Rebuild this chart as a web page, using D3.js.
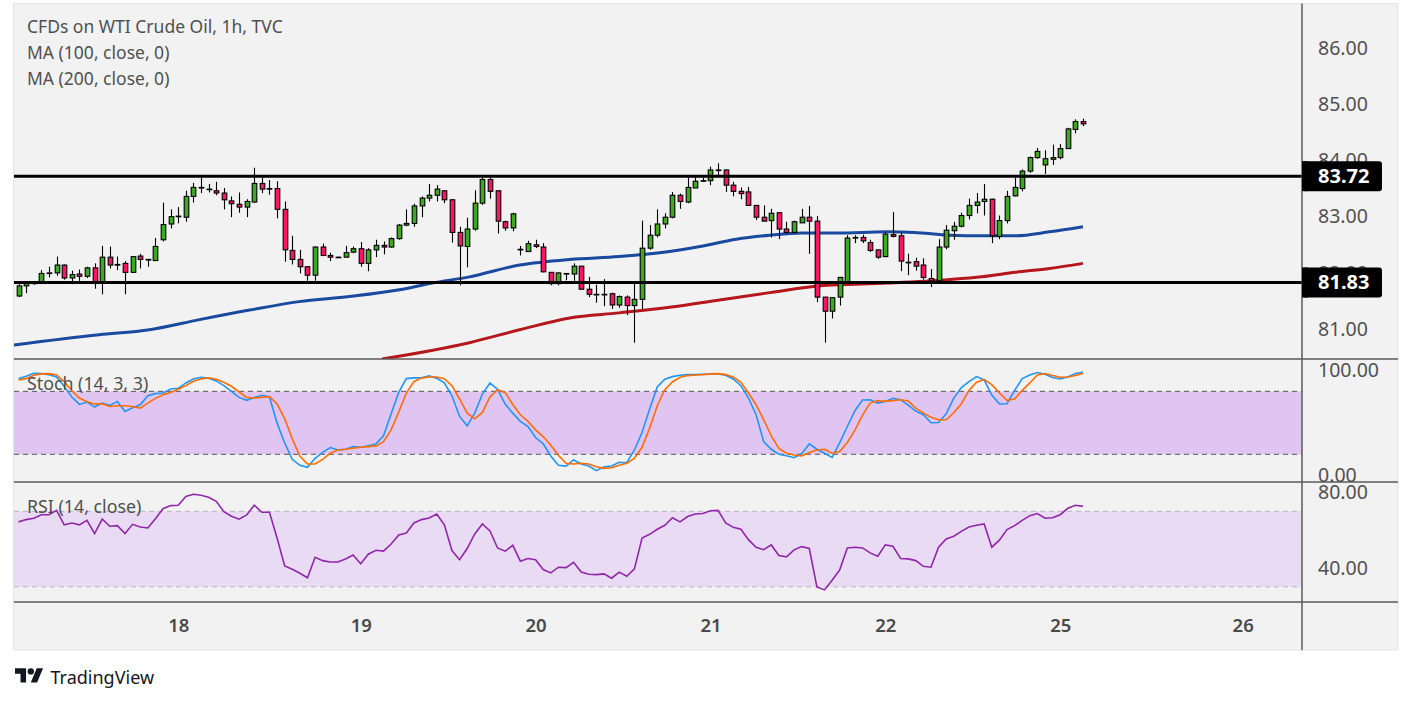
<!DOCTYPE html>
<html><head><meta charset="utf-8">
<script src="https://cdnjs.cloudflare.com/ajax/libs/d3/7.8.5/d3.min.js"></script>
<style>
body{margin:0;background:#fff;}
svg{display:block;font-family:"Noto Sans",sans-serif;}
</style>
</head><body>
<svg id="c" width="1413" height="703"></svg>
<script>
// ---------- DATA ----------
const dayLabels = ["18","19","20","21","22","25","26"];
const dayIndex  = [21, 45, 68, 91, 114, 137, 161];

const open = [81.59,81.77,81.81,81.82,81.99,82.00,82.14,81.91,81.98,81.94,
82.09,81.84,82.28,82.15,82.17,82.01,82.30,82.24,82.22,82.59,
82.87,83.00,82.99,83.36,83.52,83.49,83.46,83.42,83.28,83.22,
83.17,83.26,83.59,83.50,83.50,83.13,82.40,82.24,82.11,81.96,
82.46,82.31,82.28,82.28,82.37,82.43,82.17,82.41,82.49,82.46,
82.61,82.85,82.88,83.19,83.33,83.38,83.46,83.30,82.72,82.47,
82.78,83.24,83.66,83.46,82.91,82.80,82.42,82.38,82.50,82.46,
82.01,81.81,81.99,81.98,82.12,81.71,81.62,81.62,81.63,81.43,
81.57,81.42,81.53,82.44,82.67,82.87,82.99,83.38,83.26,83.51,
83.64,83.64,83.83,83.83,83.56,83.45,83.44,83.20,82.99,82.93,
83.07,82.78,82.72,82.89,82.99,82.92,81.57,81.32,81.57,81.84,
82.63,82.63,82.54,82.41,82.29,82.68,82.66,82.19,82.20,82.14,
81.90,81.86,82.46,82.75,82.83,83.02,83.20,83.27,83.31,82.65,
82.93,83.37,83.50,83.81,84.05,83.92,84.02,84.05,84.21,84.55,84.69];

const high = [81.80,81.84,81.84,82.05,82.11,82.29,82.15,82.04,82.06,82.11,
82.17,82.48,82.47,82.29,82.21,82.30,82.34,82.25,82.62,83.25,
83.13,83.17,83.46,83.60,83.71,83.58,83.62,83.51,83.36,83.43,
83.31,83.87,83.69,83.65,83.63,83.27,82.66,82.41,82.12,82.47,
82.52,82.36,82.29,82.48,82.47,82.55,82.44,82.59,82.56,82.63,
82.87,83.13,83.23,83.36,83.58,83.56,83.47,83.31,82.82,82.98,
83.47,83.71,83.71,83.46,82.93,83.07,82.48,82.57,82.59,82.53,
82.01,82.01,81.99,82.17,82.12,81.93,81.79,81.89,81.65,81.60,
81.60,81.82,82.93,82.85,83.13,83.06,83.44,83.41,83.71,83.71,
83.70,83.89,83.95,83.84,83.62,83.52,83.53,83.20,83.20,83.14,
83.07,82.91,82.93,83.14,83.19,83.01,81.57,81.56,81.93,82.67,
82.67,82.68,82.59,82.41,82.73,83.08,82.72,82.34,82.27,82.26,
82.07,82.60,82.85,82.91,83.07,83.32,83.42,83.58,83.32,83.02,
83.46,83.69,83.84,84.07,84.22,84.18,84.28,84.29,84.58,84.73,84.74];

const low = [81.57,81.64,81.79,81.80,81.92,81.95,81.88,81.80,81.86,81.91,
81.72,81.62,82.08,82.05,81.62,82.00,82.08,82.11,82.21,82.56,
82.79,82.88,82.91,83.25,83.42,83.43,83.38,83.13,82.99,83.07,
82.99,83.25,83.42,83.39,82.97,82.20,82.15,81.99,81.86,81.86,
82.30,82.21,82.27,82.27,82.35,82.11,82.03,82.28,82.33,82.45,
82.59,82.83,82.82,82.99,83.27,83.27,83.24,82.54,81.78,82.10,
82.75,83.21,83.32,82.70,82.75,82.74,82.31,82.38,82.44,82.01,
81.78,81.78,81.87,81.86,81.70,81.57,81.47,81.41,81.36,81.38,
81.25,80.76,81.35,82.41,82.63,82.79,82.97,83.14,83.24,83.51,
83.62,83.56,83.73,83.44,83.36,83.31,83.19,82.94,82.92,82.63,
82.60,82.70,82.70,82.89,82.34,81.48,80.76,81.19,81.42,81.84,
82.53,82.53,82.37,82.25,82.28,82.63,82.03,81.96,82.04,81.88,
81.75,81.85,82.42,82.59,82.81,82.95,83.06,83.02,82.53,82.60,
82.88,83.36,83.45,83.78,84.03,83.76,83.92,84.02,84.21,84.48,84.61];

const close = [81.77,81.81,81.82,81.99,82.00,82.14,81.91,81.97,81.94,82.09,
81.84,82.28,82.14,82.14,82.01,82.29,82.24,82.24,82.47,82.86,
83.00,83.01,83.36,83.52,83.52,83.48,83.42,83.30,83.23,83.17,
83.27,83.59,83.49,83.50,83.13,82.41,82.24,82.11,81.96,82.46,
82.31,82.28,82.28,82.36,82.43,82.17,82.41,82.49,82.46,82.61,
82.85,82.88,83.19,83.33,83.38,83.49,83.30,82.72,82.48,82.78,
83.24,83.66,83.45,82.92,82.80,83.05,82.42,82.52,82.47,82.02,
81.81,82.00,81.99,82.12,81.71,81.62,81.62,81.62,81.43,81.58,
81.42,81.53,82.44,82.67,82.87,82.99,83.38,83.27,83.52,83.63,
83.64,83.83,83.83,83.56,83.45,83.41,83.20,82.99,82.92,83.06,
82.78,82.72,82.91,82.99,82.92,81.57,81.32,81.56,81.92,82.62,
82.63,82.57,82.40,82.28,82.69,82.65,82.21,82.18,82.12,81.92,
81.86,82.46,82.76,82.83,83.02,83.20,83.26,83.31,82.66,82.93,
83.36,83.52,83.81,84.05,84.16,84.03,84.05,84.21,84.56,84.69,84.65];

const ma100Index = [-0.6,10.6,17.2,23.8,30.4,36.9,43.5,50.1,54.4,59.3,65.9,72.5,79,85.6,90,94.4,98.8,103.1,107.6,114.2,117.8,122.4,126.8,131.2,135.6,140];
const ma100 = [80.72,80.90,80.99,81.17,81.34,81.49,81.58,81.70,81.82,81.93,82.14,82.24,82.29,82.38,82.48,82.60,82.67,82.71,82.71,82.73,82.72,82.67,82.66,82.66,82.73,82.82];
const ma200Index = [47.8,59.3,65.9,72.5,79,85.6,92.2,98.8,105.4,114.2,122.2,126.7,131.1,135.6,140];
const ma200 = [80.47,80.76,80.99,81.20,81.29,81.39,81.52,81.65,81.77,81.82,81.88,81.93,82.01,82.08,82.17];

const stochK = [92.1,94.3,97.2,96.9,95.9,93.7,84.8,74.6,67.5,69.8,
65.0,68.8,66.6,70.4,60.8,64.4,67.2,75.8,77.8,78.4,
82.2,82.9,88.0,91.8,93.4,92.4,89.9,85.4,80.0,74.2,
71.4,74.2,76.2,74.6,49.7,30.8,15.2,9.5,7.6,16.2,
21.9,26.4,24.1,24.8,27.3,26.7,28.0,29.9,37.6,58.6,
79.0,92.1,92.8,92.8,94.7,92.4,88.0,75.8,56.1,47.1,
59.2,77.4,88.0,81.9,67.9,59.2,51.3,46.5,36.0,29.9,
18.4,9.5,8.8,14.6,10.7,8.8,4.4,8.2,8.8,12.3,
12.0,24.1,40.7,63.1,84.1,91.5,94.0,95.3,95.9,95.9,
96.3,96.6,96.6,95.3,91.8,85.4,73.6,57.7,32.1,24.8,
20.0,18.7,16.8,20.6,29.9,24.8,21.0,17.1,31.2,46.5,
61.5,71.7,72.0,68.8,70.4,73.3,72.0,66.9,61.2,57.7,
50.0,50.3,58.6,73.6,83.5,89.2,94.0,90.8,76.5,67.9,
68.2,80.9,92.1,95.6,97.9,96.3,93.1,91.8,93.7,96.9,98.2];

const stochD = [90.8,92.1,95.3,96.6,96.9,95.6,89.2,80.6,73.6,70.1,
67.9,68.2,65.6,66.3,66.3,65.6,64.0,68.8,73.3,76.8,
79.0,81.9,85.4,89.6,91.8,92.8,91.5,88.6,84.8,79.4,
74.2,73.6,74.2,74.9,67.9,54.1,34.7,18.4,10.7,10.7,
15.2,21.0,24.1,24.8,25.7,26.7,27.3,28.0,32.1,43.3,
60.2,78.4,89.2,92.8,93.7,93.7,92.1,85.4,72.7,59.2,
53.8,59.9,74.6,81.6,78.7,67.5,57.7,51.3,43.3,36.9,
28.6,19.0,11.4,10.7,11.4,10.7,8.2,6.6,7.2,9.5,
11.4,16.2,26.7,44.9,66.3,81.6,88.9,93.4,95.0,95.6,
95.9,96.6,96.9,95.9,93.7,88.6,78.4,67.2,52.9,37.6,
25.7,21.0,19.4,18.4,21.6,24.1,24.8,21.0,22.6,31.2,
43.0,57.3,68.8,71.1,70.4,71.1,72.0,70.7,64.0,59.2,
55.4,52.9,52.9,59.6,68.2,80.9,88.6,91.2,86.4,78.4,
71.4,72.7,80.9,88.0,95.6,96.9,95.0,93.4,93.7,95.0,96.9];

const rsi = [64.4,65.6,66.3,68.2,68.2,70.5,62.8,63.8,62.8,65.2,
58.2,65.9,62.1,62.4,58.2,63.1,61.7,61.2,66.1,71.4,
73.0,73.2,77.8,79.0,78.5,77.4,75.3,69.8,67.4,65.8,
68.1,73.2,69.5,69.5,55.9,41.1,39.3,37.2,34.8,45.7,
43.9,43.2,43.2,44.8,46.9,42.2,47.3,49.4,48.9,52.7,
57.5,58.5,63.8,65.6,66.5,68.6,62.8,49.2,44.4,50.3,
58.0,63.3,59.6,50.6,48.9,52.0,43.6,45.0,44.4,39.2,
37.4,40.4,40.2,43.0,37.9,36.7,36.5,36.9,34.6,37.8,
35.6,39.5,55.9,57.8,60.5,62.6,66.6,64.4,67.2,68.6,
68.8,70.3,70.5,63.8,61.5,60.5,55.0,51.0,49.7,52.2,
46.6,45.9,49.6,51.3,50.3,30.0,28.4,33.5,39.0,50.6,
51.0,50.6,48.0,46.2,52.2,51.5,45.0,44.8,43.9,40.9,
40.4,51.0,55.4,56.8,59.4,61.7,62.6,63.3,51.0,54.7,
60.3,62.4,65.2,67.7,68.8,66.3,66.6,68.2,71.6,73.2,72.6];

const priceTicks = [81, 82, 83, 84, 85, 86];
const stochTicks = [0, 100];
const rsiTicks = [40, 80];
const stochBand = [20, 80];
const rsiBand = [30, 70];
const levels = [83.72, 81.83];
const legend = ["CFDs on WTI Crude Oil, 1h, TVC", "MA (100, close, 0)", "MA (200, close, 0)"];

// ---------- LAYOUT ----------
const W = 1413, H = 703;
const L = 14, R = 1302, AR = 1398;
const pane = {p:[4,359], s:[359,482], r:[482,602], t:[602,650]};
const C = {bg:"#f2f2f2", txt:"#505050", sep:"#5a5a5a", up:"#3dab1e", dn:"#ff1466",
           k:"#2196f3", d:"#ff6d00", rsi:"#9127a8", ma100:"#1a4aa0", ma200:"#b5171c"};

const svg = d3.select("#c");
svg.append("rect").attr("width",W).attr("height",H).attr("fill","#fff");
svg.append("rect").attr("x",L-0.5).attr("y",3.5).attr("width",AR-L+0.5).attr("height",pane.t[1]-3.5)
  .attr("fill",C.bg).attr("stroke","#e3e4ea").attr("stroke-width",1);

const x  = d3.scaleLinear().domain([-0.6, 168.8]).range([L, R]);
const yP = d3.scaleLinear().domain([80.47, 86.78]).range([pane.p[1], pane.p[0]]);
const yS = d3.scaleLinear().domain([-6.4, 110.8]).range([pane.s[1], pane.s[0]]);
const yR = d3.scaleLinear().domain([22, 85.5]).range([pane.r[1], pane.r[0]]);

const defs = svg.append("defs");
function clip(id, y0, y1){
  defs.append("clipPath").attr("id",id).append("rect").attr("x",L).attr("y",y0).attr("width",R-L).attr("height",y1-y0);
}
clip("cp", pane.p[0], pane.p[1]); clip("cs", pane.s[0], pane.s[1]); clip("cr", pane.r[0], pane.r[1]);

// ---------- STOCH PANE ----------
const gS = svg.append("g").attr("clip-path","url(#cs)");
gS.append("rect").attr("x",L).attr("width",R-L)
  .attr("y",yS(stochBand[1])).attr("height",yS(stochBand[0])-yS(stochBand[1])).attr("fill","#e0c5f3");
stochBand.forEach(v=>gS.append("line").attr("x1",L).attr("x2",R).attr("y1",yS(v)).attr("y2",yS(v))
  .attr("stroke","#555").attr("stroke-width",1).attr("stroke-dasharray","5,4"));
const lineS = d3.line().x((d,i)=>x(i)).y(d=>yS(d));
gS.append("path").datum(stochK).attr("d",lineS).attr("fill","none").attr("stroke",C.k).attr("stroke-width",1.6);
gS.append("path").datum(stochD).attr("d",lineS).attr("fill","none").attr("stroke",C.d).attr("stroke-width",1.6);

// ---------- RSI PANE ----------
const gR = svg.append("g").attr("clip-path","url(#cr)");
gR.append("rect").attr("x",L).attr("width",R-L)
  .attr("y",yR(rsiBand[1])).attr("height",yR(rsiBand[0])-yR(rsiBand[1])).attr("fill","#e8dbf3");
rsiBand.forEach(v=>gR.append("line").attr("x1",L).attr("x2",R).attr("y1",yR(v)).attr("y2",yR(v))
  .attr("stroke","#b9b2c2").attr("stroke-width",1).attr("stroke-dasharray","5,4"));
const lineR = d3.line().x((d,i)=>x(i)).y(d=>yR(d));
gR.append("path").datum(rsi).attr("d",lineR).attr("fill","none").attr("stroke",C.rsi).attr("stroke-width",1.6);

// ---------- PRICE PANE ----------
const gP = svg.append("g").attr("clip-path","url(#cp)");
const maLine = d3.line().curve(d3.curveMonotoneX).x(d=>x(d[0])).y(d=>yP(d[1]));
gP.append("path").datum(ma100Index.map((v,i)=>[v,ma100[i]])).attr("d",maLine)
  .attr("fill","none").attr("stroke",C.ma100).attr("stroke-width",3);
gP.append("path").datum(ma200Index.map((v,i)=>[v,ma200[i]])).attr("d",maLine)
  .attr("fill","none").attr("stroke",C.ma200).attr("stroke-width",3);

const candles = open.map((o,i)=>({i, o, h:high[i], l:low[i], c:close[i]}));
const bw = 4.6;
const cg = gP.selectAll("g.c").data(candles).join("g").attr("class","c");
cg.append("line").attr("x1",d=>Math.round(x(d.i))+0.5).attr("x2",d=>Math.round(x(d.i))+0.5)
  .attr("y1",d=>yP(d.h)).attr("y2",d=>yP(d.l)).attr("stroke","#000").attr("stroke-width",1.1);
cg.append("rect")
  .attr("x",d=>Math.round(x(d.i))+0.5-bw/2)
  .attr("width",bw)
  .attr("y",d=>yP(Math.max(d.o,d.c)))
  .attr("height",d=>Math.max(0.6, Math.abs(yP(d.o)-yP(d.c))))
  .attr("fill",d=>d.c>=d.o?C.up:C.dn)
  .attr("stroke","#000").attr("stroke-width",1.1);

// horizontal levels
levels.forEach(v=>gP.append("line").attr("x1",L).attr("x2",R).attr("y1",yP(v)).attr("y2",yP(v))
  .attr("stroke","#000").attr("stroke-width",3));

// ---------- SEPARATORS ----------
[pane.s[0], pane.r[0], pane.t[0]].forEach(y=>svg.append("line").attr("x1",L).attr("x2",AR)
  .attr("y1",y).attr("y2",y).attr("stroke",C.sep).attr("stroke-width",1.5));
svg.append("line").attr("x1",R).attr("x2",R).attr("y1",3.5).attr("y2",pane.t[1])
  .attr("stroke",C.sep).attr("stroke-width",1.5);

// ---------- AXES ----------
function rightAxis(scale, ticks, fmt){
  const g = svg.append("g").attr("transform",`translate(${R},0)`)
    .call(d3.axisRight(scale).tickValues(ticks).tickFormat(fmt).tickSize(0).tickPadding(16));
  g.select(".domain").remove();
  g.selectAll("text").attr("fill",C.txt).style("font-size","19.5px").style("font-family","Noto Sans");
  return g;
}
rightAxis(yP, priceTicks, d3.format(".2f"));
rightAxis(yS, stochTicks, d3.format(".2f"));
rightAxis(yR, rsiTicks, d3.format(".2f"));

const gT = svg.append("g").attr("transform",`translate(0,${pane.t[0]})`)
  .call(d3.axisBottom(x).tickValues(dayIndex).tickFormat((d,i)=>dayLabels[i]).tickSize(0).tickPadding(17));
gT.select(".domain").remove();
gT.selectAll("text").attr("fill","#4a4a4a").style("font-size","18.5px").style("font-weight","600").style("font-family","Noto Sans");

// price level boxes
levels.forEach(v=>{
  const y = yP(v);
  svg.append("rect").attr("x",R).attr("y",y-15).attr("width",80).attr("height",30).attr("rx",3).attr("fill","#000");
  svg.append("rect").attr("x",R).attr("y",y-15).attr("width",6).attr("height",30).attr("fill","#000");
  svg.append("text").attr("x",R+16).attr("y",y+7).attr("fill","#fff")
    .style("font-size","20px").style("font-weight","700").text(d3.format(".2f")(v));
});

// ---------- LEGENDS ----------
const legY = [33, 59, 85];
legend.forEach((t,i)=>svg.append("text").attr("x",27).attr("y",legY[i]).attr("fill",C.txt)
  .style("font-size","17.5px").text(t));
svg.append("text").attr("x",27).attr("y",389.5).attr("fill",C.txt).style("font-size","17.8px").text("Stoch (14, 3, 3)");
svg.append("text").attr("x",27).attr("y",513).attr("fill",C.txt).style("font-size","17.8px").text("RSI (14, close)");

// ---------- TRADINGVIEW LOGO ----------
const lg = svg.append("g").attr("transform","translate(15,665.1) scale(0.79)").attr("fill","#131722");
lg.append("path").attr("d","M14 22H7V11H0V4h14v18zM28 22h-8l7.5-18h8L28 22z");
lg.append("circle").attr("cx",20).attr("cy",8).attr("r",4);
svg.append("text").attr("x",50.5).attr("y",683.5).attr("fill","#131722").style("font-size","18px").text("TradingView");
</script>
</body></html>
